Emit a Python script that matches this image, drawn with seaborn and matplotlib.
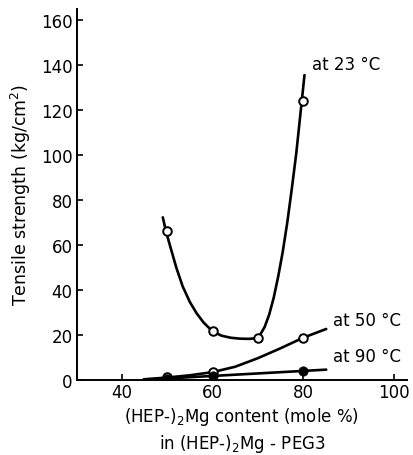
import matplotlib
matplotlib.use("Agg")
import matplotlib.pyplot as plt
import seaborn as sns

# Measured tensile strength (kg/cm^2) vs (HEP-)2Mg content (mole %)
content_23 = [50, 60, 70, 80]
strength_23 = [66, 21.5, 18.5, 124]
content_50 = [50, 60, 80]
strength_50 = [1.2, 3.3, 18.7]
content_90 = [50, 60, 80]
strength_90 = [0.5, 1.6, 3.9]

# Hand-drawn trend curves through the measurements
trend23_x = [49.0, 49.7, 50.8, 52.0, 53.4, 55.0, 56.5, 58.0, 60.0, 62.0, 64.0,
             66.0, 68.0, 69.7, 70.5, 71.5, 72.5, 73.5, 74.5, 75.5, 76.5, 77.5,
             78.5, 79.7, 80.3]
trend23_y = [72.3, 66.0, 58.2, 49.8, 41.5, 34.5, 29.5, 25.5, 21.5, 19.6, 18.7,
             18.3, 18.2, 18.5, 20.0, 23.5, 29.0, 36.5, 46.0, 57.0, 70.0, 85.0,
             101.0, 124.0, 135.6]
trend50_x = [44.8, 50.0, 55.0, 60.0, 65.0, 70.0, 75.0, 80.0, 85.1]
trend50_y = [0.2, 1.0, 2.0, 3.4, 5.8, 9.6, 14.0, 18.7, 22.6]
trend90_x = [44.8, 85.1]
trend90_y = [0.0, 4.5]

x_ticks = [40, 60, 80, 100]
y_ticks = [0, 20, 40, 60, 80, 100, 120, 140, 160]

sns.set_style("ticks")
plt.rcParams["font.family"] = ["DejaVu Sans"]
plt.rcParams.update({"text.color": "black", "axes.labelcolor": "black",
                     "xtick.color": "black", "ytick.color": "black",
                     "axes.edgecolor": "black"})

fig = plt.figure(figsize=(4.13, 4.56), dpi=100)
ax = fig.add_axes([0.186, 0.165, 0.80, 0.813])

line_kw = dict(color="black", linewidth=1.9, sort=False, estimator=None, ax=ax,
               legend=False)
for lx, ly in ((trend23_x, trend23_y), (trend50_x, trend50_y),
               (trend90_x, trend90_y)):
    sns.lineplot(x=lx, y=ly, **line_kw)
for ln in ax.lines:
    ln.set_solid_joinstyle("round")
    ln.set_solid_capstyle("round")

open_kw = dict(s=38, facecolor="white", edgecolor="black", linewidth=1.4,
               zorder=5, ax=ax, legend=False)
sns.scatterplot(x=content_23, y=strength_23, **open_kw)
sns.scatterplot(x=content_50, y=strength_50, **open_kw)
sns.scatterplot(x=content_90, y=strength_90, s=45, color="black",
                edgecolor="black", zorder=6, ax=ax, legend=False)

ax.text(81.9, 140.5, "at 23 °C", fontsize=12, va="center", ha="left")
ax.text(86.7, 26.6, "at 50 °C", fontsize=12, va="center", ha="left")
ax.text(86.7, 10.4, "at 90 °C", fontsize=12, va="center", ha="left")

ax.set_xlim(30, 103)
ax.set_ylim(0, 165)
ax.set_xticks(x_ticks)
ax.set_yticks(y_ticks)
ax.tick_params(direction="in", length=4.5, width=1.2, labelsize=12)
ax.tick_params(axis="x", pad=2)
ax.tick_params(axis="y", pad=3)
for side in ("left", "bottom"):
    ax.spines[side].set_linewidth(1.4)
sns.despine(ax=ax)

ax.set_ylabel("Tensile strength (kg/cm$^2$)", fontsize=12.5, labelpad=6)
ax.set_xlabel("(HEP-)$_2$Mg content (mole %)\nin (HEP-)$_2$Mg - PEG3",
              fontsize=12, linespacing=1.35, labelpad=3)

fig.savefig("out.png", dpi=100)
